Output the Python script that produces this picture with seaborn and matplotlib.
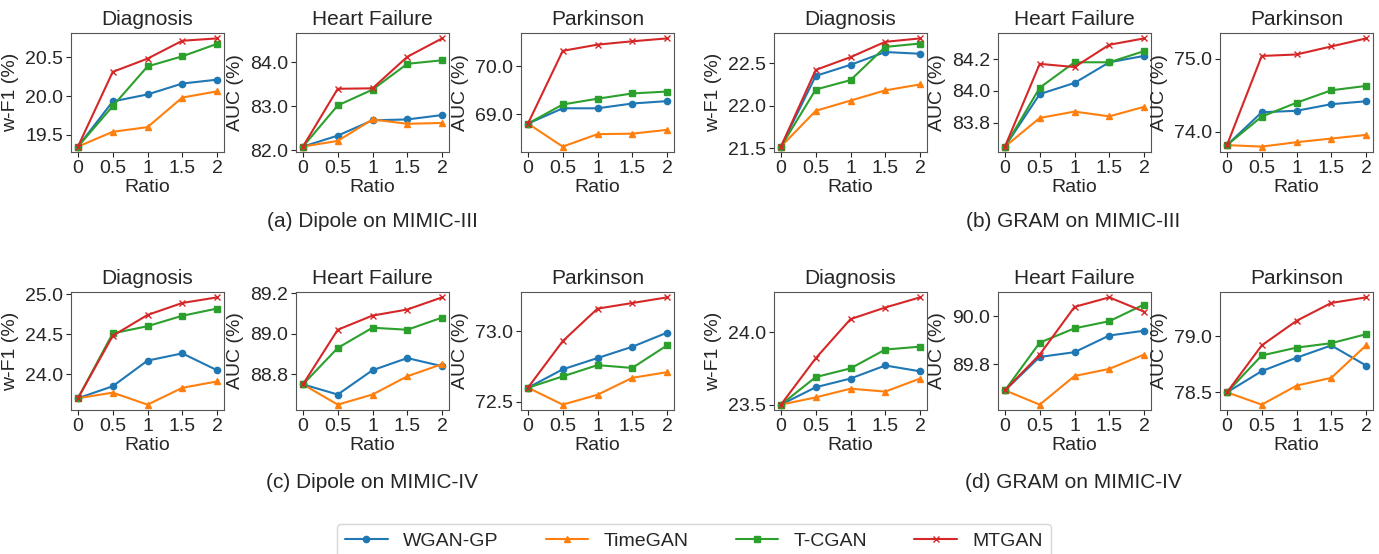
import numpy as np
import pandas as pd
import matplotlib
matplotlib.use("Agg")
import matplotlib.pyplot as plt
import seaborn as sns

sns.set_style("ticks")
plt.rcParams["font.family"] = ["Liberation Sans", "DejaVu Sans"]

ratios = [0, 0.5, 1, 1.5, 2]
methods = ["WGAN-GP", "TimeGAN", "T-CGAN", "MTGAN"]
tasks = ["Diagnosis", "Heart Failure", "Parkinson"]
ylabels = ["w-F1 (%)", "AUC (%)", "AUC (%)"]
captions = ["(a) Dipole on MIMIC-III", "(b) GRAM on MIMIC-III",
            "(c) Dipole on MIMIC-IV", "(d) GRAM on MIMIC-IV"]

# values[group][task] -> rows per method (WGAN-GP, TimeGAN, T-CGAN, MTGAN)
dipole3 = {
    "Diagnosis": [[19.35, 19.93, 20.02, 20.16, 20.21],
                  [19.35, 19.54, 19.60, 19.98, 20.06],
                  [19.35, 19.87, 20.38, 20.51, 20.67],
                  [19.35, 20.31, 20.48, 20.71, 20.74]],
    "Heart Failure": [[82.08, 82.33, 82.68, 82.70, 82.80],
                      [82.08, 82.21, 82.70, 82.60, 82.62],
                      [82.08, 83.02, 83.38, 83.97, 84.05],
                      [82.08, 83.40, 83.41, 84.13, 84.55]],
    "Parkinson": [[68.80, 69.12, 69.12, 69.22, 69.27],
                  [68.80, 68.32, 68.58, 68.59, 68.67],
                  [68.80, 69.20, 69.32, 69.43, 69.47],
                  [68.80, 70.32, 70.45, 70.52, 70.58]],
}
gram3 = {
    "Diagnosis": [[21.52, 22.35, 22.48, 22.63, 22.61],
                  [21.52, 21.94, 22.06, 22.18, 22.25],
                  [21.52, 22.19, 22.30, 22.69, 22.73],
                  [21.52, 22.42, 22.57, 22.75, 22.79]],
    "Heart Failure": [[83.65, 83.98, 84.05, 84.18, 84.22],
                      [83.65, 83.83, 83.87, 83.84, 83.90],
                      [83.65, 84.02, 84.18, 84.18, 84.25],
                      [83.65, 84.17, 84.15, 84.29, 84.33]],
    "Parkinson": [[73.82, 74.27, 74.29, 74.38, 74.42],
                  [73.82, 73.80, 73.86, 73.91, 73.96],
                  [73.82, 74.21, 74.40, 74.57, 74.63],
                  [73.82, 75.04, 75.06, 75.17, 75.28]],
}
dipole4 = {
    "Diagnosis": [[23.70, 23.85, 24.17, 24.26, 24.05],
                  [23.70, 23.77, 23.62, 23.83, 23.91],
                  [23.70, 24.51, 24.60, 24.73, 24.82],
                  [23.70, 24.48, 24.74, 24.89, 24.96]],
    "Heart Failure": [[88.75, 88.70, 88.82, 88.88, 88.84],
                      [88.75, 88.65, 88.70, 88.79, 88.85],
                      [88.75, 88.93, 89.03, 89.02, 89.08],
                      [88.75, 89.02, 89.09, 89.12, 89.18]],
    "Parkinson": [[72.60, 72.73, 72.81, 72.89, 72.99],
                  [72.60, 72.48, 72.55, 72.67, 72.71],
                  [72.60, 72.68, 72.76, 72.74, 72.90],
                  [72.60, 72.93, 73.16, 73.20, 73.24]],
}
gram4 = {
    "Diagnosis": [[23.50, 23.62, 23.68, 23.77, 23.73],
                  [23.50, 23.55, 23.61, 23.59, 23.68],
                  [23.50, 23.69, 23.75, 23.88, 23.90],
                  [23.50, 23.82, 24.09, 24.17, 24.24]],
    "Heart Failure": [[89.69, 89.83, 89.85, 89.92, 89.94],
                      [89.69, 89.63, 89.75, 89.78, 89.84],
                      [89.69, 89.89, 89.95, 89.98, 90.05],
                      [89.69, 89.84, 90.04, 90.08, 90.02]],
    "Parkinson": [[78.50, 78.69, 78.81, 78.92, 78.74],
                  [78.50, 78.39, 78.56, 78.63, 78.92],
                  [78.50, 78.83, 78.90, 78.94, 79.02],
                  [78.50, 78.92, 79.14, 79.30, 79.35]],
}
groups = [dipole3, gram3, dipole4, gram4]

yticks = [
    {"Diagnosis": [19.5, 20.0, 20.5], "Heart Failure": [82.0, 83.0, 84.0], "Parkinson": [69.0, 70.0]},
    {"Diagnosis": [21.5, 22.0, 22.5], "Heart Failure": [83.8, 84.0, 84.2], "Parkinson": [74.0, 75.0]},
    {"Diagnosis": [24.0, 24.5, 25.0], "Heart Failure": [88.8, 89.0, 89.2], "Parkinson": [72.5, 73.0]},
    {"Diagnosis": [23.5, 24.0], "Heart Failure": [89.8, 90.0], "Parkinson": [78.5, 79.0]},
]

colors = ["#1f77b4", "#ff7f0e", "#2ca02c", "#d62728"]
markers = ["o", "^", "s", "x"]

W, H = 1379, 554
fig = plt.figure(figsize=(W / 100, H / 100), dpi=100)

col_x = [[71, 296, 521], [774, 998, 1220]]
axw = 153
row_y = [(33, 152), (292, 410)]
cap_y = [222, 482]

handles = None
for g, data in enumerate(groups):
    r, c = divmod(g, 2)
    top, bot = row_y[r]
    for t, task in enumerate(tasks):
        x0 = col_x[c][t]
        ax = fig.add_axes([x0 / W, 1 - bot / H, axw / W, (bot - top) / H])
        rows = []
        for m, vals in zip(methods, data[task]):
            for x, v in zip(ratios, vals):
                rows.append({"Ratio": x, "val": v, "method": m})
        df = pd.DataFrame(rows)
        for i, m in enumerate(methods):
            d = df[df.method == m]
            ax.plot(d["Ratio"], d["val"], color=colors[i], marker=markers[i],
                    markersize=4.5, linewidth=1.5, label=m)
        ax.set_xticks(ratios)
        ax.set_xticklabels(["0", "0.5", "1", "1.5", "2"])
        ax.set_yticks(yticks[g][task])
        ax.set_yticklabels([f"{v:.1f}" for v in yticks[g][task]])
        ax.set_xlim(-0.1, 2.1)
        ax.set_title(task, fontsize=15)
        ax.set_xlabel("Ratio", fontsize=14, labelpad=2)
        ax.set_ylabel(ylabels[t], fontsize=14)
        ax.yaxis.set_label_coords(-0.34, 0.5)
        ax.tick_params(labelsize=14, pad=2)
        for s in ax.spines.values():
            s.set_visible(True)
            s.set_color("#555555")
        handles = ax.get_legend_handles_labels()
    cx = (col_x[c][0] + col_x[c][2] + axw) / 2 / W
    fig.text(cx, 1 - cap_y[r] / H, captions[g], ha="center", va="center", fontsize=15)

fig.legend(handles[0], handles[1], loc="center", bbox_to_anchor=(694 / W, 1 - 541 / H),
           ncol=4, fontsize=14, frameon=True, columnspacing=2.4, handlelength=2.2,
           edgecolor="#cccccc", fancybox=True)

fig.savefig("out.png", dpi=100)
